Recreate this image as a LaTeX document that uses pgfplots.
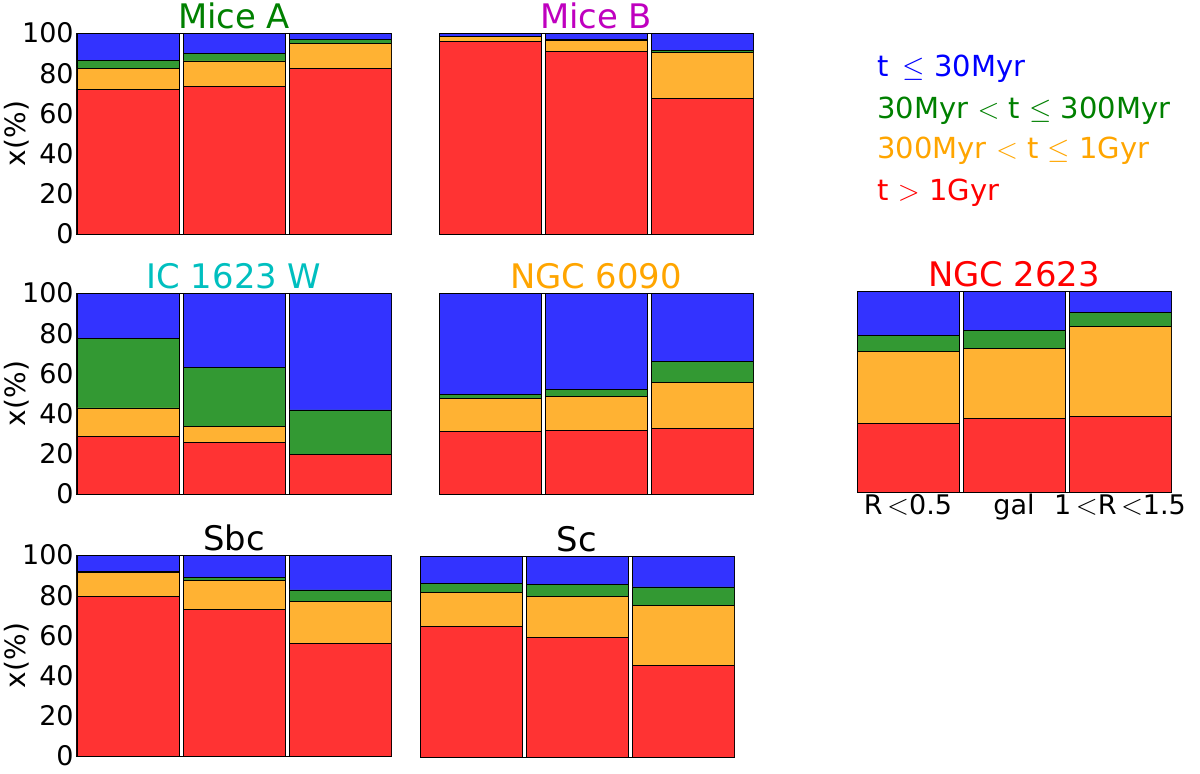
\documentclass[border=0pt]{standalone}
\usepackage{fontspec}
\setmainfont{DejaVu Sans}
\usepackage{pgfplots}
\pgfplotsset{compat=1.18}

\definecolor{cred}{RGB}{255,51,51}
\definecolor{corange}{RGB}{255,178,51}
\definecolor{cgreen}{RGB}{51,153,51}
\definecolor{cblue}{RGB}{51,51,255}
\definecolor{tgreen}{RGB}{0,128,0}
\definecolor{tmag}{RGB}{191,0,191}
\definecolor{tcyan}{RGB}{0,191,191}
\definecolor{torange}{RGB}{255,165,0}
\definecolor{tred}{RGB}{255,0,0}
\definecolor{tblue}{RGB}{0,0,255}

\newcommand{\tickfont}{\fontsize{16.2pt}{16.2pt}\selectfont}
\newcommand{\titlefont}{\fontsize{20.3pt}{20.3pt}\selectfont}
\newcommand{\legfont}{\fontsize{17.4pt}{17.4pt}\selectfont}

\pgfplotsset{
  panel/.style={
    scale only axis, width=188.4pt, height=120.6pt,
    anchor=north west,
    xmin=-0.481, xmax=2.481, ymin=0, ymax=100,
    ybar stacked, bar width=0.962,
    xtick={0,1,2}, xticklabels={},
    ytick={0,20,40,60,80,100},
    tick align=inside, major tick length=2.4pt,
    axis line style={line width=0.6pt},
    tick style={line width=0.5pt, black},
    ticklabel style={font=\tickfont},
    yticklabel style={anchor=east, inner sep=0pt, xshift=-1.8pt},
    every axis title shift=0pt,
    title style={at={(0.5,1)}, anchor=base, yshift=3pt, font=\titlefont},
    /pgf/number format/assume math mode=true,
  },
  nolab/.style={yticklabels={}},
  ylab/.style={ylabel={x(\%)},
    ylabel style={at={(axis description cs:-0.191,0.5)}, anchor=center, font=\fontsize{16.8pt}{16.8pt}\selectfont}},
  sr/.style={fill=cred, draw=black, line width=0.5pt},
  so/.style={fill=corange, draw=black, line width=0.5pt},
  sg/.style={fill=cgreen, draw=black, line width=0.5pt},
  sb/.style={fill=cblue, draw=black, line width=0.5pt},
}

\begin{document}
\begin{tikzpicture}
\useasboundingbox (0,0) rectangle (720pt,-463.8pt);

% Mice A
\begin{axis}[panel, ylab, at={(46.2pt,-19.8pt)}, title={\color{tgreen}Mice A}]
\addplot[sr] coordinates {(0,71.9) (1,73.4) (2,82.3)};
\addplot[so] coordinates {(0,10.6) (1,12.7) (2,12.6)};
\addplot[sg] coordinates {(0,3.9) (1,3.7) (2,2.0)};
\addplot[sb] coordinates {(0,13.6) (1,10.2) (2,3.1)};
\end{axis}

% Mice B
\begin{axis}[panel, nolab, at={(263.4pt,-19.8pt)}, title={\color{tmag}Mice B}]
\addplot[sr] coordinates {(0,95.7) (1,90.9) (2,67.4)};
\addplot[so] coordinates {(0,2.6) (1,5.6) (2,22.8)};
\addplot[sg] coordinates {(0,0.0) (1,0.1) (2,0.9)};
\addplot[sb] coordinates {(0,1.7) (1,3.4) (2,8.9)};
\end{axis}

% IC 1623 W
\begin{axis}[panel, ylab, at={(46.2pt,-175.8pt)}, title={\color{tcyan}IC 1623 W}]
\addplot[sr] coordinates {(0,28.6) (1,25.8) (2,19.5)};
\addplot[so] coordinates {(0,14.2) (1,7.9) (2,0.0)};
\addplot[sg] coordinates {(0,34.7) (1,29.1) (2,22.3)};
\addplot[sb] coordinates {(0,22.5) (1,37.2) (2,58.2)};
\end{axis}

% NGC 6090
\begin{axis}[panel, nolab, at={(263.4pt,-175.8pt)}, title={\color{torange}NGC 6090}]
\addplot[sr] coordinates {(0,31.1) (1,31.8) (2,32.8)};
\addplot[so] coordinates {(0,16.3) (1,16.7) (2,22.8)};
\addplot[sg] coordinates {(0,2.3) (1,3.7) (2,10.5)};
\addplot[sb] coordinates {(0,50.3) (1,47.8) (2,33.9)};
\end{axis}

% NGC 2623
\begin{axis}[panel, nolab, at={(514.2pt,-174.6pt)}, title={\color{tred}NGC 2623},
  xticklabels={R\,$<$0.5, gal, 1\,$<$R\,$<$1.5},
  xticklabel style={anchor=base, inner sep=0pt, yshift=-13.2pt}]
\addplot[sr] coordinates {(0,34.0) (1,36.4) (2,37.7)};
\addplot[so] coordinates {(0,35.8) (1,34.8) (2,44.6)};
\addplot[sg] coordinates {(0,8.1) (1,9.3) (2,7.1)};
\addplot[sb] coordinates {(0,22.1) (1,19.5) (2,10.6)};
\end{axis}

% Sbc
\begin{axis}[panel, ylab, at={(46.2pt,-333pt)}, title={Sbc}]
\addplot[sr] coordinates {(0,79.2) (1,72.7) (2,55.9)};
\addplot[so] coordinates {(0,11.9) (1,14.6) (2,21.0)};
\addplot[sg] coordinates {(0,0.5) (1,1.6) (2,5.7)};
\addplot[sb] coordinates {(0,8.4) (1,11.1) (2,17.4)};
\end{axis}

% Sc
\begin{axis}[panel, nolab, at={(252pt,-333.6pt)}, title={Sc}]
\addplot[sr] coordinates {(0,64.8) (1,59.3) (2,45.5)};
\addplot[so] coordinates {(0,17.0) (1,20.7) (2,29.9)};
\addplot[sg] coordinates {(0,4.5) (1,5.8) (2,9.2)};
\addplot[sb] coordinates {(0,13.7) (1,14.2) (2,15.4)};
\end{axis}

% legend text
\node[anchor=base west, inner sep=0pt, text=tblue, font=\legfont] at (526.2pt,-45.6pt) {t\, $\leq$ 30Myr};
\node[anchor=base west, inner sep=0pt, text=tgreen, font=\legfont] at (526.2pt,-71pt) {30Myr $<$ t $\leq$ 300Myr};
\node[anchor=base west, inner sep=0pt, text=torange, font=\legfont] at (526.2pt,-95pt) {300Myr $<$ t $\leq$ 1Gyr};
\node[anchor=base west, inner sep=0pt, text=tred, font=\legfont] at (526.2pt,-120pt) {t $>$ 1Gyr};
\end{tikzpicture}
\end{document}
